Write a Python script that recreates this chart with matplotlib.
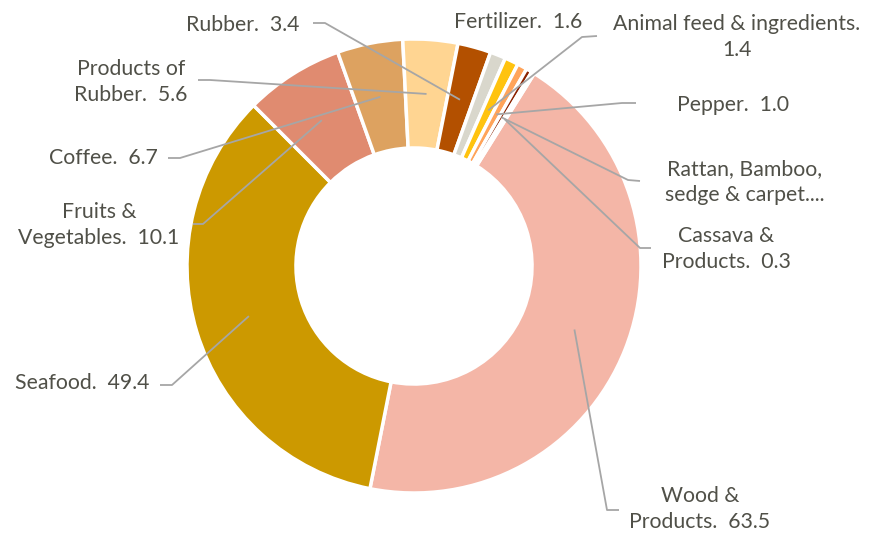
import matplotlib
matplotlib.use("Agg")
import numpy as np
from matplotlib import pyplot as plt

# data
labels = ["Wood &\nProducts.  63.5", "Seafood.  49.4", "Fruits &\nVegetables.  10.1",
          "Coffee.  6.7", "Products of\nRubber.  5.6", "Rubber.  3.4", "Fertilizer.  1.6",
          "Animal feed & ingredients.\n1.4", "Pepper.  1.0", "Rattan, Bamboo,\nsedge & carpet....",
          "Cassava &\nProducts.  0.3"]
values = [63.5, 49.4, 10.1, 6.7, 5.6, 3.4, 1.6, 1.4, 1.0, 0.6, 0.3]
colors = ["#F4B6A7", "#CC9900", "#E08B70", "#DDA260", "#FFD592", "#B35000", "#D9D7CC",
          "#FFC30F", "#FFA45A", "#8B2200", "#C55A11"]

# label placement in pixels (top-left origin): text centre, knee, end of leader
text_pos = [(700, 509), (82, 383), (99, 225), (103, 158), (131, 82), (243, 25), (518, 22),
            (737, 37), (733, 105), (745, 182), (726, 249)]
knees = [(607, 510), (172, 385), (203, 224), (180, 158), (210, 80), (325, 23), None,
         (582, 37), (622, 103), (628, 180), (640, 248)]
ends = [(619, 510), (160, 385), (193, 224), (168, 158), (198, 80), (313, 23), None,
        (597, 36), (636, 103), (640, 181), (651, 248)]

W, H = 869, 537
cx, cy, R = 414, 266, 227
hole = 0.52

fig = plt.figure(figsize=(W / 100, H / 100), dpi=100)
ax = fig.add_axes([0, 0, 1, 1])

wedges, _ = ax.pie(values, colors=colors, startangle=58, counterclock=False,
                   center=(cx, H - cy), radius=R,
                   wedgeprops=dict(width=R * (1 - hole), edgecolor="white", linewidth=2.5))

ax.set_xlim(0, W)
ax.set_ylim(0, H)
ax.set_aspect("equal")
ax.axis("off")

txt_color = "#505048"
line_color = "#A6A6A6"
r_mid = R * (1 + hole) / 2
for w, lab, tp, kn, en in zip(wedges, labels, text_pos, knees, ends):
    ang = np.deg2rad((w.theta1 + w.theta2) / 2)
    ax_, ay_ = cx + r_mid * np.cos(ang), (H - cy) + r_mid * np.sin(ang)
    if kn is not None:
        ax.plot([ax_, kn[0], en[0]], [ay_, H - kn[1], H - en[1]],
                color=line_color, lw=1.3, solid_capstyle="butt", zorder=3)
    ax.text(tp[0], H - tp[1], lab, ha="center", va="center", fontsize=15.3,
            family="Lato", color=txt_color, linespacing=1.4)

fig.savefig("out.png", dpi=100)
